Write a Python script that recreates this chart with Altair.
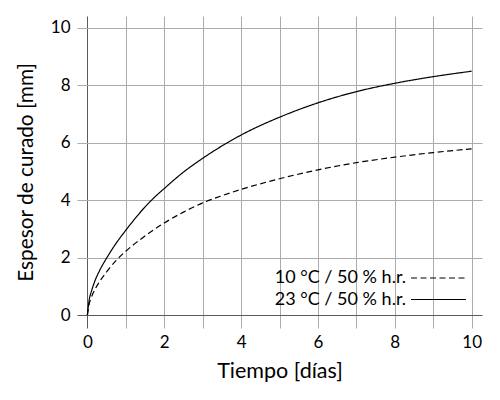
import altair as alt
import pandas as pd

# Tiempo [días]
t_23 = [0, 0.05, 0.1, 0.2, 0.3, 0.5, 0.75, 1, 1.25, 1.5, 1.75, 2, 2.5, 3, 3.5, 4, 5, 6, 7, 8, 9, 10]
e_23 = [0, 0.55, 0.8, 1.2, 1.5, 1.98, 2.5, 2.95, 3.37, 3.76, 4.1, 4.4, 4.97, 5.45, 5.88, 6.26, 6.88, 7.38, 7.77, 8.06, 8.29, 8.48]
t_10 = [0, 0.05, 0.1, 0.2, 0.3, 0.5, 0.75, 1, 1.5, 2, 2.5, 3, 3.5, 4, 5, 6, 7, 8, 9, 10]
e_10 = [0, 0.4, 0.6, 0.9, 1.13, 1.5, 1.9, 2.22, 2.75, 3.2, 3.58, 3.9, 4.15, 4.37, 4.74, 5.05, 5.3, 5.49, 5.65, 5.78]
series_names = ["10 °C / 50 % h.r.", "23 °C / 50 % h.r."]
x_ticks = list(range(0, 11))
y_ticks = [0, 2, 4, 6, 8, 10]

df10 = pd.DataFrame({"t": t_10, "e": e_10, "s": series_names[0]})
df23 = pd.DataFrame({"t": t_23, "e": e_23, "s": series_names[1]})

FONT = "Lato"
grid_col = alt.condition("datum.value === 0", alt.value("#5a5a5a"), alt.value("#ababab"))

x_enc = alt.X("t:Q",
              scale=alt.Scale(domain=[-0.27, 10.27], nice=False, zero=False),
              axis=alt.Axis(values=x_ticks, title="Tiempo [días]",
                            labelExpr="datum.value % 2 === 0 ? datum.label : ''",
                            grid=True, gridColor=grid_col, gridWidth=1,
                            ticks=False, domain=False, labelPadding=6,
                            labelFontSize=17, titleFontSize=21.5, titleFontWeight="normal",
                            titlePadding=10, labelColor="black", titleColor="black",
                            labelFont=FONT, titleFont=FONT))
y_enc = alt.Y("e:Q",
              scale=alt.Scale(domain=[-0.45, 10.4], nice=False, zero=False),
              axis=alt.Axis(values=y_ticks, title="Espesor de curado [mm]",
                            grid=True, gridColor=grid_col, gridWidth=1,
                            ticks=False, domain=False, labelPadding=7,
                            labelFontSize=17, titleFontSize=20.8, titleFontWeight="normal",
                            titlePadding=14, labelColor="black", titleColor="black",
                            labelFont=FONT, titleFont=FONT))


def legend_at(ly):
    return alt.Legend(title=None, orient="none", legendX=333, legendY=ly,
                      symbolType="stroke", symbolSize=3025, symbolStrokeWidth=1.2,
                      symbolStrokeColor="black",
                      labelAlign="right", labelOffset={"expr": "-61"},
                      labelFontSize=18, labelFont=FONT, labelColor="black")


line10 = alt.Chart(df10).mark_line(color="black", strokeWidth=1.2, interpolate="monotone").encode(
    x=x_enc, y=y_enc,
    strokeDash=alt.StrokeDash("s:N", scale=alt.Scale(domain=[series_names[0]], range=[[6, 3.5]]),
                              legend=legend_at(233.5)),
)
line23 = alt.Chart(df23).mark_line(color="black", strokeWidth=1.2, interpolate="monotone").encode(
    x=x_enc, y=y_enc,
    strokeDash=alt.StrokeDash("s:N", scale=alt.Scale(domain=[series_names[1]], range=[[1, 0]]),
                              legend=legend_at(255)),
)

chart = alt.layer(line10, line23).resolve_scale(strokeDash="independent").resolve_legend(
    strokeDash="independent"
).properties(
    width=405, height=312,
    autosize=alt.AutoSizeParams(type="none"),
    padding={"left": 69, "top": 8, "right": 10, "bottom": 56},
).configure_view(stroke=None)

chart.save("out.html", embed_options={"renderer": "svg", "actions": False})
